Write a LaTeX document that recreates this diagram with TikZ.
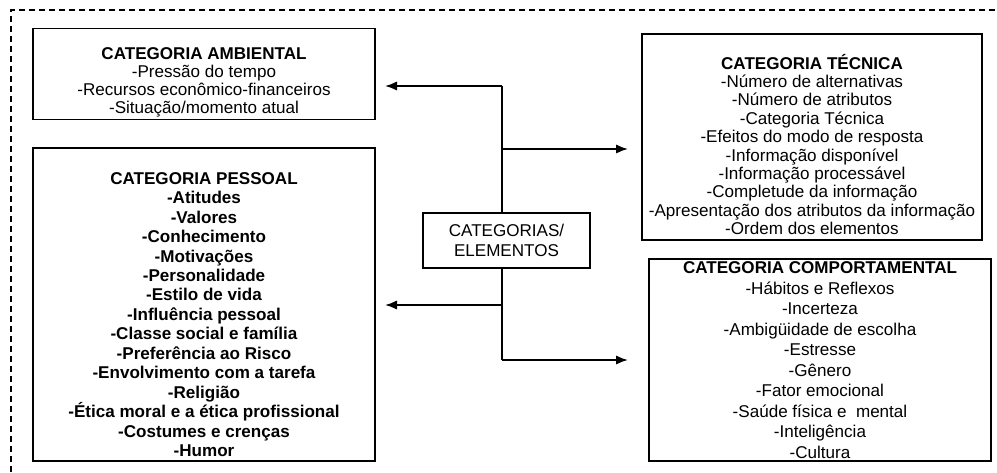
\documentclass[tikz,border=0pt]{standalone}
\usepackage{fontspec}
\setmainfont{Liberation Sans}
\usetikzlibrary{arrows.meta}
\newcommand\toppad[1]{\rule{0pt}{#1}}
\tikzset{
  catbox/.style={draw,line width=1.4pt,align=center,inner sep=2pt},
  linkarrow/.style={line width=1.4pt,-{Latex[length=9pt,width=7pt]}},
}
\begin{document}
\begin{tikzpicture}[x=.75pt,y=-.75pt]
  \useasboundingbox (0,0) rectangle (997,472);
  \draw[line width=1.4pt,dash pattern=on 4.5pt off 3pt] (11,472) -- (11,10) -- (997,10);
  % left column
  \node[catbox,minimum width=256.5pt,minimum height=63pt,font=\fontsize{12.8}{13.5}\selectfont] (amb) at (204,74)
    {\toppad{21pt}\textbf{CATEGORIA AMBIENTAL}\\-Pressão do tempo\\-Recursos econômico-financeiros\\-Situação/momento atual};
  \node[catbox,minimum width=256.5pt,minimum height=234.75pt,font=\bfseries\fontsize{12.8}{14.6}\selectfont] (pes) at (204,304.5)
    {\toppad{24pt}CATEGORIA PESSOAL\\-Atitudes\\-Valores\\-Conhecimento\\-Motivações\\-Personalidade\\-Estilo de vida\\
     -Influência pessoal\\-Classe social e família\\-Preferência ao Risco\\-Envolvimento com a tarefa\\
     -Religião\\-Ética moral e a ética profissional\\-Costumes e crenças\\-Humor};
  % centre
  \node[catbox,minimum width=125.25pt,minimum height=41.25pt,font=\fontsize{12.8}{15}\selectfont] (cen) at (506.5,240.5)
    {CATEGORIAS/\\ELEMENTOS};
  % right column
  \node[catbox,minimum width=255pt,minimum height=154.5pt,font=\fontsize{12.8}{13.8}\selectfont] (tec) at (812,137)
    {\toppad{22.5pt}\textbf{CATEGORIA TÉCNICA}\\-Número de alternativas\\-Número de atributos\\-Categoria Técnica\\
     -Efeitos do modo de resposta\\-Informação disponível\\-Informação processável\\-Completude da informação\\
     -Apresentação dos atributos da informação\\-Ordem dos elementos};
  \node[catbox,minimum width=256.5pt,minimum height=151.5pt,font=\fontsize{12.8}{15.4}\selectfont] (com) at (820,360)
    {\textbf{CATEGORIA COMPORTAMENTAL}\\-Hábitos e Reflexos\\-Incerteza\\-Ambigüidade de escolha\\-Estresse\\
     -Gênero\\-Fator emocional\\-Saúde física e\ \ mental\\-Inteligência\\-Cultura};
  % trunk and branches
  \coordinate (jamb) at (502,86);
  \coordinate (jtec) at (502,149);
  \coordinate (jpes) at (502,305);
  \coordinate (jcom) at (502,360);
  \coordinate (tamb) at (385,86);
  \coordinate (ttec) at (628,149);
  \coordinate (tpes) at (385,305);
  \coordinate (tcom) at (628,360);
  \draw[line width=1.4pt] (jamb) -- (cen.north -| jamb);
  \draw[line width=1.4pt] (cen.south -| jcom) -- (jcom);
  \draw[linkarrow] (jamb) -- (tamb);
  \draw[linkarrow] (jtec) -- (ttec);
  \draw[linkarrow] (jpes) -- (tpes);
  \draw[linkarrow] (jcom) -- (tcom);
\end{tikzpicture}
\end{document}
